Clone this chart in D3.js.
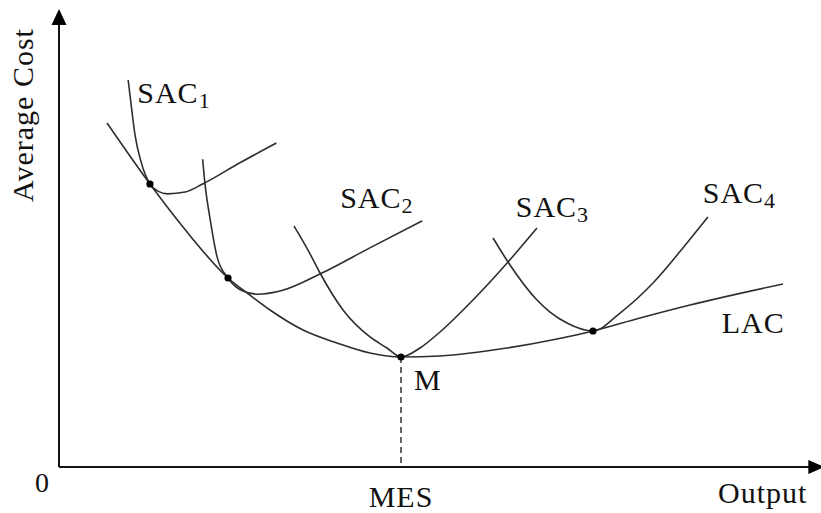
<!DOCTYPE html>
<html>
<head>
<meta charset="utf-8">
<script src="https://cdn.jsdelivr.net/npm/d3@7"></script>
<style>
  html, body { margin: 0; padding: 0; background: #fff; }
  svg { display: block; }
  text { font-family: 'Liberation Serif', 'Times New Roman', serif; fill: #111; }
</style>
</head>
<body>
<main></main>
<script>
// curves, [output, cost] in 0..100 units
const lac = [
  [6.32, 76.44], [11.97, 62.89], [16.32, 53.33], [22.24, 42.0], [24.74, 38.67],
  [27.76, 34.89], [32.11, 30.44], [36.58, 27.56], [40.92, 25.33], [45.0, 24.44],
  [50.13, 24.67], [58.95, 26.44], [65.53, 28.44], [70.26, 30.22], [76.45, 33.11],
  [83.03, 36.0], [95.26, 40.67]
]
const sac1 = [
  [9.1, 86.0], [9.5, 80.4], [10.0, 73.8], [10.8, 67.8], [11.97, 62.89],
  [13.0, 61.3], [14.3, 60.7], [16.6, 61.1], [18.9, 62.9], [23.8, 67.6], [28.6, 72.0]
]
const sac2 = [
  [18.9, 68.4], [19.2, 63.1], [19.9, 54.9], [20.8, 46.7], [22.24, 42.0],
  [24.2, 39.1], [26.1, 38.4], [29.1, 39.1], [34.6, 43.1], [40.9, 48.7], [47.8, 54.7]
]
const sac3 = [
  [30.92, 53.56], [32.76, 48.22], [34.34, 43.11], [37.37, 34.89], [40.92, 28.89],
  [43.16, 26.44], [45.0, 24.44], [47.5, 26.44],
  [50.13, 30.0], [54.47, 37.11], [59.08, 45.56], [62.89, 53.11]
]
const sac4 = [
  [57.11, 50.89], [59.08, 45.56], [62.89, 37.11], [64.61, 34.44], [66.84, 32.0],
  [70.26, 30.22], [73.82, 34.22], [78.16, 40.89],
  [82.63, 49.78], [85.39, 55.56]
]
const tangentPoints = [[11.97, 62.89], [22.24, 42.0], [45.0, 24.44], [70.26, 30.22]]
const mes = 45.0

// curve labels: [name, subscript, x, y of baseline start]
const curveLabels = [
  ['SAC', '1', 10.3, 80.9],
  ['SAC', '2', 37.0, 57.6],
  ['SAC', '3', 60.1, 55.6],
  ['SAC', '4', 84.7, 58.7],
  ['LAC', '', 87.2, 29.8],
  ['M', '', 46.7, 17.1]
]

const width = 821
const height = 513

const x = d3.scaleLinear().domain([0, 100]).range([59, 819])
const y = d3.scaleLinear().domain([0, 100]).range([467, 17])

const svg = d3.select('main')
  .append('svg')
  .attr('width', width)
  .attr('height', height)

// Axes
const xEnd = 100.7
const yEnd = 101.8

svg.append('line')
  .attr('x1', x(0)).attr('y1', y(0))
  .attr('x2', x(xEnd) - 12).attr('y2', y(0))
  .attr('stroke', '#111')
  .attr('stroke-width', 2)

svg.append('line')
  .attr('x1', x(0)).attr('y1', y(0))
  .attr('x2', x(0)).attr('y2', y(yEnd) + 12)
  .attr('stroke', '#111')
  .attr('stroke-width', 2)

svg.append('path')
  .attr('d', `M${x(xEnd)},${y(0)} L${x(xEnd) - 16},${y(0) - 7} L${x(xEnd) - 16},${y(0) + 7} Z`)
  .attr('fill', '#000')

svg.append('path')
  .attr('d', `M${x(0)},${y(yEnd)} L${x(0) - 7.5},${y(yEnd) + 16} L${x(0) + 7.5},${y(yEnd) + 16} Z`)
  .attr('fill', '#000')

// MES dashed guide
svg.append('line')
  .attr('x1', x(mes)).attr('y1', y(24.44))
  .attr('x2', x(mes)).attr('y2', y(0))
  .attr('stroke', '#333')
  .attr('stroke-width', 1.5)
  .attr('stroke-dasharray', '6,4')

// Curves
const line = d3.line()
  .x(d => x(d[0]))
  .y(d => y(d[1]))
  .curve(d3.curveMonotoneX)

svg.selectAll('path.curve')
  .data([sac1, sac2, sac3, sac4, lac])
  .enter()
  .append('path')
  .attr('class', 'curve')
  .attr('d', line)
  .attr('fill', 'none')
  .attr('stroke', '#2e2e2e')
  .attr('stroke-width', 1.6)

svg.selectAll('circle')
  .data(tangentPoints)
  .enter()
  .append('circle')
  .attr('cx', d => x(d[0]))
  .attr('cy', d => y(d[1]))
  .attr('r', 3.6)
  .attr('fill', '#000')

// Labels
const labels = svg.selectAll('text.curve-label')
  .data(curveLabels)
  .enter()
  .append('text')
  .attr('class', 'curve-label')
  .attr('x', d => x(d[2]))
  .attr('y', d => y(d[3]))
  .style('font-size', '30px')
  .style('letter-spacing', '1px')

labels.append('tspan').text(d => d[0])
labels.append('tspan')
  .text(d => d[1])
  .attr('dy', 5)
  .style('font-size', '22px')

svg.append('text')
  .text('0')
  .attr('x', x(0) - 17)
  .attr('y', y(0) + 25)
  .attr('text-anchor', 'middle')
  .style('font-size', '28px')

svg.append('text')
  .text('MES')
  .attr('x', x(mes))
  .attr('y', y(0) + 40)
  .attr('text-anchor', 'middle')
  .style('font-size', '30px')
  .style('letter-spacing', '1px')

svg.append('text')
  .text('Output')
  .attr('x', 718)
  .attr('y', y(0) + 36)
  .style('font-size', '30px')
  .style('letter-spacing', '1px')

svg.append('text')
  .text('Average Cost')
  .attr('transform', `translate(33, 115) rotate(-90)`)
  .attr('text-anchor', 'middle')
  .style('font-size', '30px')
  .style('letter-spacing', '1px')
</script>
</body>
</html>
